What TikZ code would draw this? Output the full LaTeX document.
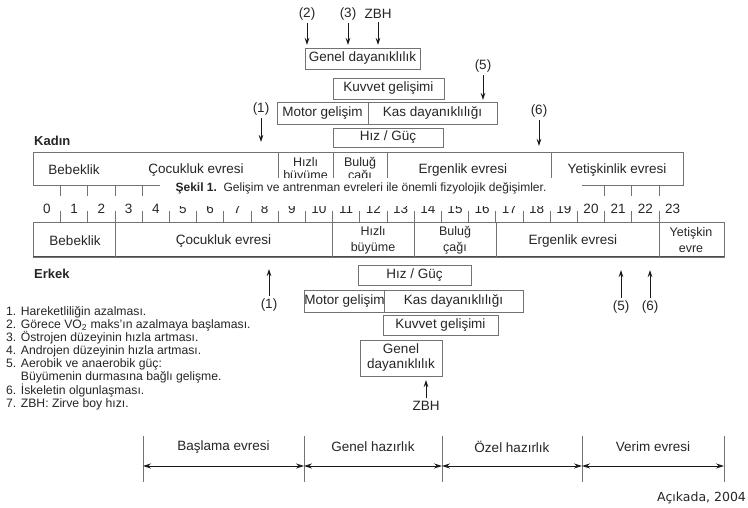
\documentclass[tikz,border=0pt]{standalone}
\usepackage{fontspec}
\setmainfont{Liberation Sans}
\newfontfamily\signfont{DejaVu Sans}
\usetikzlibrary{arrows.meta,shadows}
\begin{document}
\begin{tikzpicture}[x=1pt,y=-1pt,
  lab/.style={font=\fontsize{13.5}{14}\selectfont, text=black!85, inner sep=0pt},
  small/.style={font=\fontsize{12.5}{13}\selectfont, text=black!85, inner sep=0pt, align=center},
  smallb/.style={font=\fontsize{12.5}{16}\selectfont, text=black!85, inner sep=0pt, align=center},
  box/.style={draw=black!55, line width=0.6pt, fill=white, inner sep=0pt, align=center,
    font=\fontsize{13.5}{15}\selectfont, text=black!85,
    drop shadow={shadow xshift=0.9pt, shadow yshift=-0.9pt, fill=black!75, opacity=1}},
  arr/.style={-{Stealth[length=7pt,width=4.5pt]}, line width=0.8pt, black!90, shorten <=3pt},
  darr/.style={{Stealth[length=8pt,width=5pt]}-{Stealth[length=8pt,width=5pt]}, line width=0.8pt, black!90},
  grayline/.style={draw=black!55, line width=0.7pt},
]
\fill[white] (0,0) rectangle (748,508);
\useasboundingbox (0,0) rectangle (748,508);

% ---------- top (Kadin) boxes ----------
\node[box, minimum width=115pt, minimum height=21pt] (gd) at (362.5,58.5) {Genel dayanıklılık};
\node[box, minimum width=111pt, minimum height=21pt] (kg) at (388.5,88.5) {Kuvvet gelişimi};
\node[box, minimum width=91pt, minimum height=22pt] (mg) at (322.5,113) {Motor gelişim};
\node[box, minimum width=129pt, minimum height=22pt] (kd) at (432.5,113) {Kas dayanıklılığı};
\node[box, minimum width=110pt, minimum height=19pt] (hg) at (388,137.5) {Hız / Güç};

% top arrows
\node[lab] (n2) at (307,14) {(2)};
\node[lab] (n3) at (348,14) {(3)};
\node[lab] (nz) at (378,14) {ZBH};
\coordinate (n2t) at (307,45);
\coordinate (n3t) at (348,45);
\coordinate (nzt) at (378,45);
\draw[arr] (n2) -- (n2t);
\draw[arr] (n3) -- (n3t);
\draw[arr] (nz) -- (nzt);
\node[lab] (k1) at (261,109) {(1)};
\coordinate (k1t) at (261,142);
\draw[arr] (k1) -- (k1t);
\node[lab] (k5) at (483,66) {(5)};
\coordinate (k5t) at (483,100);
\draw[arr] (k5) -- (k5t);
\node[lab] (k6) at (539,111) {(6)};
\coordinate (k6t) at (539,146);
\draw[arr] (k6) -- (k6t);

\node[font=\bfseries\fontsize{13}{14}\selectfont, text=black!85, inner sep=0pt, anchor=west] (kadin) at (34,141) {Kadın};

% ---------- Kadin row ----------
\draw[grayline] (33,152) rectangle (683,185);
\draw[grayline] (278,152) -- (278,185);
\draw[grayline] (333,152) -- (333,185);
\draw[grayline] (387,152) -- (387,185);
\draw[grayline] (551,152) -- (551,185);
\node[lab] (kb) at (74,170) {Bebeklik};
\node[lab] (kc) at (196,170) {Çocukluk evresi};
\begin{scope}
  \clip (278,152) rectangle (387,178);
  \node[small] (kh) at (305.5,170) {Hızlı\\büyüme};
  \node[small] (kbu) at (360,170) {Buluğ\\çağı};
\end{scope}
\node[lab] (ke) at (463,170) {Ergenlik evresi};
\node[lab] (ky) at (617,170) {Yetişkinlik evresi};

% ---------- ruler ----------
\foreach \k in {0,...,22} {
  \draw[grayline] ({60.6+27.2*\k},185) -- ({60.6+27.2*\k},196);
  \draw[grayline] ({60.6+27.2*\k},211) -- ({60.6+27.2*\k},222);
}
\foreach \k in {0,...,23} {
  \node[lab] (num\k) at ({47+27.2*\k},209) {\k};
}

% caption over the ruler
\fill[white] (160,178) rectangle (582,206.5);
\node[font=\fontsize{12}{13}\selectfont, text=black!85, inner sep=0pt] (cap) at (361,188)
  {\textbf{Şekil 1.}\ \ Gelişim ve antrenman evreleri ile önemli fizyolojik değişimler.};

% ---------- Erkek row ----------
\draw[grayline] (33,222) rectangle (724,257);
\draw[line width=1pt, black!70] (33,257) -- (724,257);
\draw[grayline] (332.5,222) -- (332.5,257);
\draw[grayline] (414,222) -- (414,257);
\draw[grayline] (496,222) -- (496,257);
\draw[grayline] (659,222) -- (659,257);
\draw[grayline] (115,222) -- (115,257);
\node[lab] (eb) at (75,241) {Bebeklik};
\node[lab] (ec) at (223.5,241) {Çocukluk evresi};
\node[smallb] (eh) at (373,240) {Hızlı\\büyüme};
\node[smallb] (ebu) at (455,240) {Buluğ\\çağı};
\node[lab] (ee) at (573,241) {Ergenlik evresi};
\node[smallb] (ey) at (691,240) {Yetişkin\\evre};

\node[font=\bfseries\fontsize{13}{14}\selectfont, text=black!85, inner sep=0pt, anchor=west] (erkek) at (34,274) {Erkek};

% ---------- bottom (Erkek) boxes ----------
\node[box, minimum width=113pt, minimum height=20pt] (hg2) at (414.5,275) {Hız / Güç};
\node[box, minimum width=79pt, minimum height=22pt] (mg2) at (344.5,301) {Motor gelişim};
\node[box, minimum width=139pt, minimum height=22pt] (kd2) at (453.5,301) {Kas dayanıklılığı};
\node[box, minimum width=115pt, minimum height=20pt] (kg2) at (440.5,325) {Kuvvet gelişimi};
\node[box, minimum width=82pt, minimum height=36pt] (gd2) at (401,358) {Genel\\dayanıklılık};

\node[lab] (e1) at (269,305) {(1)};
\coordinate (e1t) at (269,269);
\draw[arr] (e1) -- (e1t);
\node[lab] (e5) at (621,307) {(5)};
\coordinate (e5t) at (621,270);
\draw[arr] (e5) -- (e5t);
\node[lab] (e6) at (650,307) {(6)};
\coordinate (e6t) at (650,270);
\draw[arr] (e6) -- (e6t);
\node[lab] (ez) at (426,406) {ZBH};
\coordinate (ezt) at (426,380);
\draw[arr] (ez) -- (ezt);

% ---------- legend ----------
\node[anchor=north west, align=left, inner sep=0pt, text=black!85,
      font=\fontsize{12.2}{13}\selectfont] (legend) at (6,306) {%
1. Hareketliliğin azalması.\\
2. Görece VO\textsubscript{2} maks'ın azalmaya başlaması.\\
3. Östrojen düzeyinin hızla artması.\\
4. Androjen düzeyinin hızla artması.\\
5. Aerobik ve anaerobik güç:\\
\hphantom{5. }Büyümenin durmasına bağlı gelişme.\\
6. İskeletin olgunlaşması.\\
7. ZBH: Zirve boy hızı.};

% ---------- training phases ----------
\coordinate (p0t) at (143,436); \coordinate (p0b) at (143,482); \coordinate (p0) at (143,466);
\coordinate (p1t) at (304,436); \coordinate (p1b) at (304,482); \coordinate (p1) at (304,466);
\coordinate (p2t) at (442,436); \coordinate (p2b) at (442,482); \coordinate (p2) at (442,466);
\coordinate (p3t) at (582,436); \coordinate (p3b) at (582,482); \coordinate (p3) at (582,466);
\coordinate (p4t) at (724,436); \coordinate (p4b) at (724,482); \coordinate (p4) at (724,466);
\foreach \i in {0,...,4} { \draw[grayline] (p\i t) -- (p\i b); }
\draw[darr] (p0) -- (p1);
\draw[darr] (p1) -- (p2);
\draw[darr] (p2) -- (p3);
\draw[darr] (p3) -- (p4);
\node[lab] (ph1) at (223.5,447) {Başlama evresi};
\node[lab] (ph2) at (373,447) {Genel hazırlık};
\node[lab] (ph3) at (512,447) {Özel hazırlık};
\node[lab] (ph4) at (653,447) {Verim evresi};

\node[font=\signfont\fontsize{12.5}{13}\selectfont, text=black!85, inner sep=0pt, anchor=west] (src) at (657,498) {Açıkada, 2004};
\end{tikzpicture}
\end{document}
